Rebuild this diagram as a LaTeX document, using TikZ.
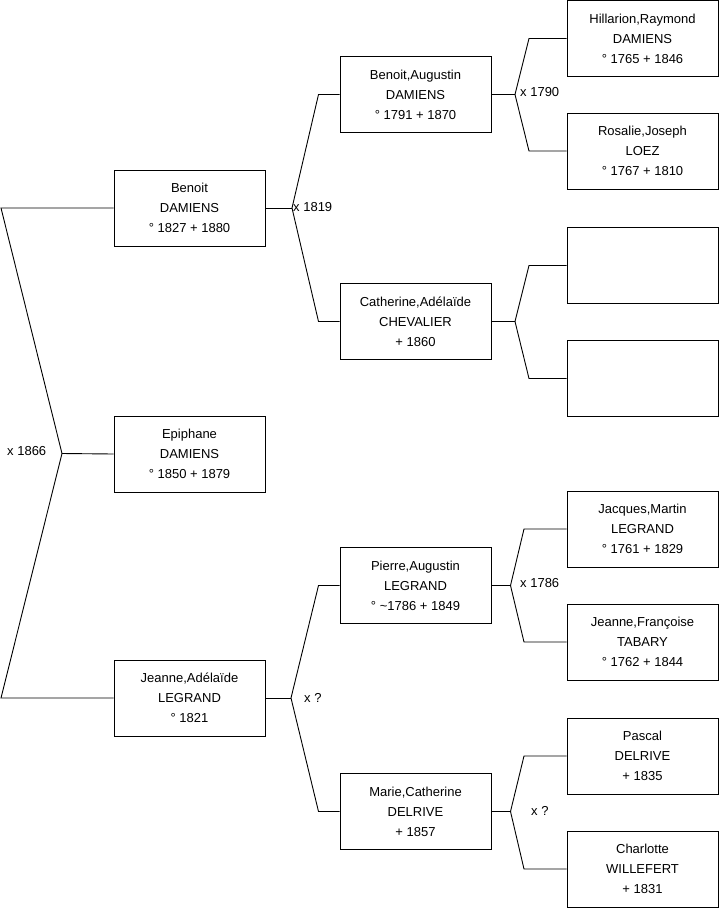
\documentclass[tikz,border=0pt]{standalone}
\usepackage{fontspec}
\setmainfont{Liberation Sans}
\begin{document}
\begin{tikzpicture}[x=1pt,y=-1pt,
  person/.style={draw, line width=0.9pt, minimum width=151pt, minimum height=76pt, align=center, inner sep=0pt, font=\fontsize{13}{20}\selectfont},
  link/.style={line width=0.9pt},
  lbl/.style={font=\fontsize{13}{15}\selectfont, inner sep=0pt, anchor=west}]
\useasboundingbox (0,0) rectangle (719,908);
% generation 1
\node[person] (benoit) at (189.5,208) {Benoit\\DAMIENS\\° 1827 + 1880};
\node[person] (epiphane) at (189.5,454) {Epiphane\\DAMIENS\\° 1850 + 1879};
\node[person] (jeanne) at (189.5,698) {Jeanne,Adélaïde\\LEGRAND\\° 1821};
% generation 2
\node[person] (benaug) at (415.5,94.5) {Benoit,Augustin\\DAMIENS\\° 1791 + 1870};
\node[person] (cath) at (415.5,321.5) {Catherine,Adélaïde\\CHEVALIER\\+ 1860};
\node[person] (pierre) at (415.5,585.5) {Pierre,Augustin\\LEGRAND\\° \textasciitilde 1786 + 1849};
\node[person] (marie) at (415.5,811.5) {Marie,Catherine\\DELRIVE\\+ 1857};
% generation 3
\node[person] (hill) at (642.5,38.5) {Hillarion,Raymond\\DAMIENS\\° 1765 + 1846};
\node[person] (rosa) at (642.5,151) {Rosalie,Joseph\\LOEZ\\° 1767 + 1810};
\node[person] (e1) at (642.5,265.5) {};
\node[person] (e2) at (642.5,378.5) {};
\node[person] (jacq) at (642.5,529) {Jacques,Martin\\LEGRAND\\° 1761 + 1829};
\node[person] (jfr) at (642.5,642) {Jeanne,Françoise\\TABARY\\° 1762 + 1844};
\node[person] (pasc) at (642.5,756) {Pascal\\DELRIVE\\+ 1835};
\node[person] (charl) at (642.5,869) {Charlotte\\WILLEFERT\\+ 1831};
% junction coordinates
\coordinate (a1) at (1,208);
\coordinate (a0) at (62,453.5);
\coordinate (a2) at (1,698);
\coordinate (j1) at (292,208);
\coordinate (j1a) at (318.5,94.5);
\coordinate (j1b) at (318.5,321.5);
\coordinate (j2) at (291,698);
\coordinate (j2a) at (318.5,585.5);
\coordinate (j2b) at (318.5,811.5);
\coordinate (k1) at (515,94.5);
\coordinate (k1a) at (529,38.5);
\coordinate (k1b) at (529,151);
\coordinate (k2) at (515,321.5);
\coordinate (k2a) at (529,265.5);
\coordinate (k2b) at (529,378.5);
\coordinate (k3) at (510.5,585.5);
\coordinate (k3a) at (524,529);
\coordinate (k3b) at (524,642);
\coordinate (k4) at (510.5,811.5);
\coordinate (k4a) at (524,756);
\coordinate (k4b) at (524,869);
% connectors
\draw[link] (benoit.west) -- (a1) -- (a0) -- (a2) -- (jeanne.west);
\draw[link] (a0) -- (epiphane.west);
\draw[link] (benoit.east) -- (j1);
\draw[link] (benaug.west) -- (j1a) -- (j1) -- (j1b) -- (cath.west);
\draw[link] (jeanne.east) -- (j2);
\draw[link] (pierre.west) -- (j2a) -- (j2) -- (j2b) -- (marie.west);
\draw[link] (benaug.east) -- (k1);
\draw[link] (hill.west) -- (k1a) -- (k1) -- (k1b) -- (rosa.west);
\draw[link] (cath.east) -- (k2);
\draw[link] (e1.west) -- (k2a) -- (k2) -- (k2b) -- (e2.west);
\draw[link] (pierre.east) -- (k3);
\draw[link] (jacq.west) -- (k3a) -- (k3) -- (k3b) -- (jfr.west);
\draw[link] (marie.east) -- (k4);
\draw[link] (pasc.west) -- (k4a) -- (k4) -- (k4b) -- (charl.west);
% marriage labels
\node[lbl] (m1) at (7,451) {x 1866};
\node[lbl] (m2) at (293,207) {x 1819};
\node[lbl] (m3) at (520,92) {x 1790};
\node[lbl] (m4) at (304,698) {x ?};
\node[lbl] (m5) at (520,583) {x 1786};
\node[lbl] (m6) at (531,811) {x ?};
\end{tikzpicture}
\end{document}
